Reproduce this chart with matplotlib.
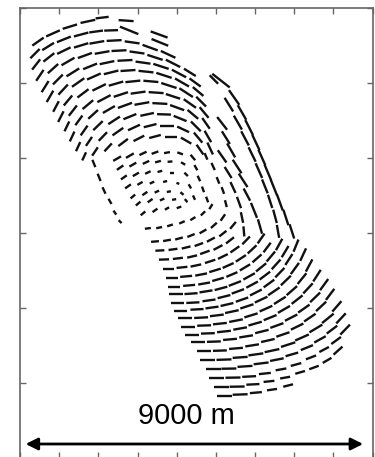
import numpy as np
import matplotlib.pyplot as plt
from matplotlib.collections import LineCollection

plt.rcParams['font.family'] = ['Liberation Sans', 'DejaVu Sans']

# Each dash: centre x (m), centre y (m), orientation (deg), length (m)

# Upper dome rows, north-west edge to east side
dome_rows = [
    [(480, 11090, 35, 370), (880, 11310, 24, 400), (1330, 11490, 17, 400), (1810, 11630, 12, 400),
     (2190, 11730, 7, 350), (2830, 11650, -4, 400), (3710, 11280, -20, 480)],
    [(400, 10770, 45, 350), (750, 10960, 32, 370), (1170, 11150, 22, 400), (1630, 11280, 15, 400),
     (2030, 11360, 8, 370), (2430, 11390, 2, 370), (2910, 11390, -22, 530), (3730, 11070, -22, 480)],
    [(430, 10480, 52, 350), (770, 10670, 38, 370), (1170, 10850, 26, 400), (1630, 10990, 17, 400),
     (2050, 11070, 10, 400), (2510, 11120, 3, 400), (2990, 11070, -8, 400), (3470, 10930, -20, 430),
     (3950, 10750, -25, 430)],
    [(530, 10190, 56, 350), (880, 10370, 42, 370), (1280, 10560, 30, 400), (1730, 10720, 20, 400),
     (2190, 10800, 10, 400), (2640, 10850, 3, 400), (3120, 10800, -8, 400), (3600, 10670, -18, 430),
     (4080, 10510, -27, 430), (4530, 10270, -32, 370)],
    [(670, 9890, 58, 350), (1010, 10080, 45, 370), (1410, 10270, 32, 400), (1870, 10430, 22, 400),
     (2320, 10530, 12, 400), (2800, 10590, 3, 400), (3280, 10530, -8, 400), (3760, 10430, -18, 430),
     (4240, 10240, -28, 430), (4670, 10000, -36, 370)],
    [(800, 9630, 60, 350), (1150, 9810, 47, 370), (1550, 10000, 35, 400), (1970, 10160, 24, 400),
     (2430, 10270, 14, 400), (2880, 10320, 4, 400), (3360, 10290, -6, 400), (3840, 10190, -18, 430),
     (4320, 10000, -30, 430), (4750, 9760, -40, 370)],
    [(960, 9360, 62, 320), (1280, 9520, 50, 350), (1680, 9710, 37, 370), (2110, 9870, 26, 400),
     (2560, 9970, 16, 400), (3010, 10030, 6, 400), (3490, 10030, -5, 400), (3970, 9920, -18, 430),
     (4430, 9730, -33, 430), (4830, 9490, -45, 370)],
    [(1090, 9090, 63, 320), (1410, 9250, 52, 350), (1810, 9410, 40, 370), (2240, 9570, 28, 400),
     (2690, 9680, 18, 400), (3150, 9730, 8, 400), (3630, 9730, -4, 400), (4080, 9630, -18, 400),
     (4530, 9440, -35, 400), (4910, 9200, -50, 370)],
    [(1250, 8830, 64, 290), (1570, 8990, 54, 320), (1950, 9150, 42, 350), (2370, 9280, 30, 370),
     (2800, 9390, 20, 400), (3250, 9440, 10, 400), (3730, 9440, -3, 400), (4190, 9330, -20, 400),
     (4610, 9150, -40, 370), (4960, 8910, -55, 350)],
    [(1390, 8560, 65, 290), (1710, 8720, 55, 320), (2080, 8850, 44, 350), (2510, 8990, 33, 370),
     (2930, 9090, 22, 370), (3390, 9150, 12, 370), (3840, 9150, -2, 370), (4270, 9040, -22, 370),
     (4690, 8830, -45, 370), (5010, 8560, -60, 350)],
    [(1550, 8290, 65, 270), (1840, 8430, 56, 290), (2210, 8560, 46, 320), (2610, 8690, 35, 350),
     (3040, 8800, 25, 350), (3470, 8850, 14, 350), (3920, 8850, 0, 350), (4350, 8750, -25, 350),
     (4750, 8530, -50, 350), (5070, 8240, -65, 350)],
    [(1710, 8030, 65, 240), (2000, 8160, 56, 270), (2350, 8270, 47, 290), (2750, 8400, 37, 320),
     (3170, 8510, 27, 320), (3600, 8560, 15, 320), (4030, 8560, 0, 320), (4430, 8450, -30, 320),
     (4800, 8210, -55, 320)],
]

# Slow core in the middle of the bend
core_rows = [
    [(1970, 7840, -68, 210), (2110, 7470, -68, 210), (2240, 7120, -65, 190), (2400, 6830, -60, 160),
     (2530, 6530, -55, 130), (2670, 6290, -45, 110)],
    [(2590, 7970, 30, 240), (2930, 8050, 30, 240), (3280, 8110, 25, 210), (3600, 8130, 20, 190),
     (3920, 8130, 10, 160), (4270, 8110, -20, 160), (4610, 8000, -50, 190)],
    [(2670, 7730, 35, 210), (3010, 7810, 30, 210), (3360, 7870, 25, 190), (3680, 7890, 15, 160),
     (4000, 7890, 5, 130), (4350, 7840, -30, 130), (4690, 7730, -60, 160)],
    [(2770, 7470, 35, 190), (3090, 7550, 30, 190), (3410, 7600, 25, 160), (3730, 7630, 15, 130),
     (4050, 7600, 0, 110), (4430, 7550, -45, 130), (4770, 7440, -65, 160)],
    [(2880, 7230, 35, 190), (3200, 7310, 30, 160), (3520, 7330, 25, 130), (3870, 7360, 15, 110),
     (4210, 7310, -20, 80), (4530, 7230, -60, 130), (4880, 7150, -70, 160)],
    [(3010, 6960, 40, 160), (3330, 7040, 35, 160), (3650, 7090, 25, 130), (3970, 7090, 10, 110),
     (4320, 7040, -40, 110), (4640, 6930, -65, 130), (4990, 6880, -70, 160)],
    [(3150, 6770, 40, 160), (3470, 6850, 35, 160), (3790, 6880, 25, 130), (4110, 6880, 10, 110),
     (4430, 6850, -50, 110)],
    [(3280, 6510, 40, 160), (3600, 6590, 35, 160), (3920, 6640, 30, 130), (4240, 6670, 20, 130)],
]

# Tracks running down the east side
chain_rows = [
    [(5360, 10050, -38, 590), (5710, 9600, -55, 480), (5920, 9200, -60, 450), (6110, 8800, -63, 450),
     (6290, 8400, -65, 450), (6450, 8000, -66, 450), (6610, 7600, -67, 450), (6770, 7200, -68, 450),
     (6930, 6800, -70, 450), (7090, 6400, -72, 430), (7250, 6030, -72, 400)],
    [(5170, 10080, -45, 320), (5570, 9410, -58, 430), (5810, 8930, -60, 430), (6000, 8510, -62, 430),
     (6190, 8080, -64, 430), (6370, 7650, -66, 430), (6530, 7230, -68, 400), (6670, 6830, -72, 370),
     (6800, 6430, -75, 370), (6880, 6030, -80, 350)],
    [(5390, 8910, -52, 430), (5490, 8530, -58, 400), (5630, 8190, -60, 430), (5790, 7760, -57, 430),
     (5950, 7390, -57, 430), (6050, 7010, -62, 370), (6240, 6590, -68, 430), (6400, 6160, -74, 400)],
    [(5390, 8030, -55, 400), (5550, 7600, -58, 350), (5680, 7200, -65, 320), (5840, 6800, -70, 320),
     (5920, 6400, -78, 290), (5970, 6030, -85, 270)],
    [(4960, 8030, -67, 190), (5150, 7760, -65, 210), (5280, 7390, -68, 190), (5410, 7120, -70, 190),
     (5490, 6770, -75, 190)],
]

# Lower rows, south-west edge curving up to the east
bottom_rows = [
    [(3410, 6110, 8, 160), (3710, 6130, 12, 160), (4000, 6190, 18, 160), (4320, 6270, 24, 160),
     (4610, 6370, 32, 160), (4880, 6510, 44, 160), (5090, 6690, 58, 160)],
    [(3600, 5760, 5, 210), (3920, 5790, 10, 210), (4240, 5840, 15, 210), (4560, 5920, 22, 210),
     (4880, 6030, 30, 210), (5170, 6190, 42, 210), (5410, 6400, 55, 210)],
    [(3730, 5520, 3, 240), (4080, 5550, 8, 240), (4430, 5600, 14, 240), (4770, 5680, 20, 240),
     (5090, 5810, 28, 240), (5410, 5970, 38, 240), (5680, 6190, 50, 240)],
    [(3840, 5280, 2, 270), (4210, 5310, 7, 270), (4590, 5360, 13, 270), (4930, 5470, 20, 270),
     (5280, 5600, 28, 270), (5600, 5790, 38, 270)],
    [(3950, 5040, 0, 290), (4320, 5070, 6, 290), (4690, 5120, 12, 290), (5070, 5230, 18, 290),
     (5410, 5360, 26, 290), (5730, 5550, 35, 290), (6030, 5790, 46, 290)],
    [(4050, 4800, 0, 320), (4430, 4830, 5, 320), (4830, 4880, 11, 320), (5200, 4990, 17, 320),
     (5550, 5120, 24, 320), (5890, 5310, 33, 320), (6190, 5550, 43, 320), (6430, 5840, 55, 320)],
    [(4110, 4560, 0, 320), (4510, 4590, 5, 320), (4910, 4640, 10, 320), (5280, 4750, 16, 320),
     (5650, 4880, 23, 320), (6000, 5070, 31, 320), (6320, 5310, 41, 320), (6590, 5600, 53, 320)],
    [(4160, 4350, 0, 350), (4560, 4370, 4, 350), (4960, 4430, 9, 350), (5360, 4510, 15, 350),
     (5730, 4640, 21, 350), (6110, 4830, 29, 350), (6430, 5070, 39, 350), (6690, 5360, 50, 350),
     (6910, 5680, 61, 350)],
    [(4210, 4130, 0, 350), (4610, 4130, 3, 350), (5040, 4190, 8, 350), (5440, 4290, 14, 350),
     (5810, 4430, 20, 350), (6190, 4610, 28, 350), (6530, 4850, 37, 350), (6830, 5150, 48, 350),
     (7070, 5490, 59, 350)],
    [(4290, 3920, 0, 350), (4720, 3950, 3, 350), (5120, 4000, 8, 350), (5520, 4080, 13, 350),
     (5920, 4210, 19, 350), (6290, 4400, 27, 350), (6640, 4640, 36, 350), (6930, 4930, 46, 350),
     (7170, 5280, 57, 350), (7360, 5650, 68, 350)],
    [(4400, 3710, 0, 370), (4830, 3730, 3, 370), (5250, 3790, 7, 370), (5650, 3890, 12, 370),
     (6050, 4030, 18, 370), (6430, 4210, 25, 370), (6770, 4430, 34, 370), (7090, 4720, 44, 370),
     (7330, 5040, 54, 370), (7550, 5410, 65, 370)],
    [(4480, 3490, 0, 370), (4910, 3520, 2, 370), (5330, 3570, 6, 370), (5760, 3650, 11, 370),
     (6160, 3790, 17, 370), (6560, 3970, 24, 370), (6930, 4190, 32, 370), (7250, 4450, 41, 370),
     (7520, 4770, 51, 370), (7710, 5120, 62, 370)],
    [(4590, 3280, 0, 370), (5010, 3310, 2, 370), (5440, 3360, 6, 370), (5870, 3440, 10, 370),
     (6270, 3570, 16, 370), (6670, 3730, 22, 370), (7040, 3950, 30, 370), (7390, 4210, 38, 370),
     (7680, 4510, 47, 370), (7920, 4850, 57, 370)],
    [(4750, 3070, 0, 370), (5170, 3090, 2, 370), (5600, 3150, 5, 370), (6030, 3230, 9, 370),
     (6450, 3360, 14, 370), (6850, 3520, 20, 370), (7230, 3730, 27, 370), (7570, 3970, 35, 370),
     (7870, 4270, 44, 370), (8110, 4610, 54, 370)],
    [(4910, 2830, 0, 370), (5330, 2850, 2, 370), (5760, 2910, 5, 370), (6190, 2990, 9, 370),
     (6610, 3120, 13, 370), (7010, 3280, 19, 370), (7390, 3490, 26, 370), (7730, 3730, 34, 370),
     (8030, 4030, 43, 370), (8270, 4350, 53, 370)],
    [(5010, 2590, 0, 400), (5440, 2610, 2, 400), (5870, 2670, 4, 400), (6290, 2750, 8, 400),
     (6720, 2850, 12, 400), (7150, 3010, 18, 400), (7520, 3200, 24, 400), (7890, 3440, 31, 400),
     (8210, 3710, 39, 400), (8450, 4030, 49, 370)],
    [(5150, 2350, 0, 400), (5570, 2370, 1, 400), (6000, 2430, 4, 400), (6430, 2510, 7, 400),
     (6850, 2610, 11, 370), (7250, 2750, 16, 350), (7650, 2930, 22, 350), (8000, 3150, 29, 350),
     (8320, 3410, 37, 350), (8560, 3710, 47, 370)],
    [(5250, 2110, 0, 400), (5680, 2130, 1, 400), (6110, 2160, 3, 370), (6530, 2240, 6, 320),
     (6960, 2350, 10, 290), (7360, 2480, 15, 290), (7760, 2670, 21, 290), (8110, 2880, 28, 290),
     (8430, 3120, 36, 320), (8670, 3410, 46, 370)],
    [(5360, 1870, 0, 400), (5790, 1890, 1, 400), (6210, 1950, 3, 350), (6640, 2030, 6, 290),
     (7070, 2130, 10, 270), (7470, 2270, 16, 270), (7840, 2400, 20, 270), (8190, 2590, 30, 270),
     (8480, 2850, 42, 320)],
    [(5440, 1650, 0, 400), (5870, 1680, 2, 400), (6290, 1730, 5, 320), (6720, 1810, 8, 270),
     (7150, 1920, 14, 270)],
]

# Map extent and scale bar
X_MAX = 9400
Y_MAX = 12000
SCALE_LEN = 9000
scale_x0 = 150
scale_y = 360
scale_label = '9000 m'


def dash_segments(rows):
    segs = []
    for row in rows:
        for x, y, ang, ln in row:
            t = np.deg2rad(ang)
            dx = 0.5 * ln * np.cos(t)
            dy = 0.5 * ln * np.sin(t)
            segs.append([(x - dx, y - dy), (x + dx, y + dy)])
    return segs


fig = plt.figure(figsize=(3.75, 4.57), dpi=100)
ax = fig.add_axes([20 / 375, -0.5 / 457, 352.5 / 375, 450 / 457])

segs = []
for rows in (dome_rows, core_rows, chain_rows, bottom_rows):
    segs += dash_segments(rows)
ax.add_collection(LineCollection(segs, colors='#111111', linewidths=1.7, capstyle='butt'))

ax.set_xlim(0, X_MAX)
ax.set_ylim(0, Y_MAX)
ax.set_xticks(np.linspace(0, X_MAX, 10))
ax.set_yticks(np.arange(0, Y_MAX + 1, 2000))
ax.tick_params(direction='in', length=4, width=1, colors='#666666',
               top=True, right=True, labelbottom=False, labelleft=False)
for sp in ax.spines.values():
    sp.set_color('#666666')
    sp.set_linewidth(1.2)

# Scale bar
ax.annotate('', xy=(scale_x0 + SCALE_LEN, scale_y), xytext=(scale_x0, scale_y),
            arrowprops=dict(arrowstyle='<|-|>,head_length=0.6,head_width=0.3',
                            mutation_scale=12, lw=2, color='black',
                            shrinkA=0, shrinkB=0))
ax.text(4430, 890, scale_label, fontsize=21, ha='center', va='baseline', color='black')

plt.savefig('out.png', dpi=100)
